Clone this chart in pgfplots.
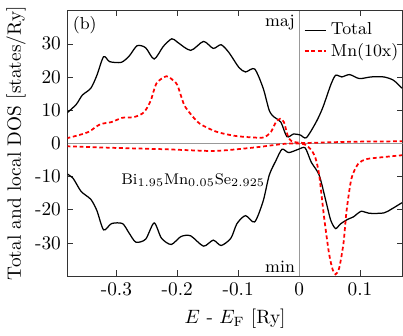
\documentclass[border=0pt]{standalone}
\usepackage{pgfplots}
\pgfplotsset{compat=1.18}
\begin{document}
\begin{tikzpicture}
\begin{axis}[
  width=173.5pt, height=137.5pt,
  scale only axis,
  xmin=-0.38, xmax=0.17,
  ymin=-40, ymax=40,
  xtick={-0.3,-0.2,-0.1,0,0.1},
  ytick={-30,-20,-10,0,10,20,30},
  tick align=inside,
  major tick length=3pt,
  axis line style={black!80},
  tick style={black!80},
  /pgf/number format/assume math mode=true,
  xlabel={$E$ - $E_{\mathrm{F}}$ [Ry]},
  ylabel={Total and local DOS [states/Ry]},
  ylabel style={yshift=-2pt},
  legend style={draw=none, fill=none, at={(1.0,0.985)}, anchor=north east,
    row sep=-1pt, inner xsep=0pt, font=\small},
  legend cell align=left,
  legend image code/.code={\draw[mark repeat=2,mark phase=2,#1] plot coordinates {(0cm,0cm) (0.2cm,0cm) (0.39cm,0cm)};},
]
\draw[black!40, line width=0.4pt] (axis cs:-0.38,0) -- (axis cs:0.17,0);
\draw[black!40, line width=0.4pt] (axis cs:0,-40) -- (axis cs:0,40);

% Total, majority
\addplot[black, line width=0.65pt, smooth, tension=0.45] coordinates {
(-0.382,9.0) (-0.366,11.7) (-0.356,14.5) (-0.342,16.6) (-0.332,20.5) (-0.321,26.1)
(-0.311,24.6) (-0.292,24.4) (-0.279,26.3) (-0.266,29.4) (-0.252,28.8) (-0.238,25.4)
(-0.223,29.2) (-0.209,31.5) (-0.200,30.5) (-0.178,28.0) (-0.157,30.7) (-0.141,28.6)
(-0.128,29.7) (-0.115,27.3) (-0.099,22.9) (-0.088,21.5) (-0.073,22.4) (-0.059,16.6)
(-0.049,9.9) (-0.041,7.9) (-0.030,6.4) (-0.020,2.0) (-0.009,2.8) (0.002,2.5)
(0.012,1.7) (0.028,6.4) (0.039,10.8) (0.052,17.6) (0.060,20.5) (0.070,20.0)
(0.083,20.7) (0.099,19.5) (0.118,20.0) (0.139,20.0) (0.155,19.0) (0.169,16.6)
};
\addlegendentry{Total}

% Mn (10x), majority
\addplot[red, line width=0.9pt, dash pattern=on 2pt off 1.4pt, smooth, tension=0.45] coordinates {
(-0.382,1.5) (-0.361,2.5) (-0.345,3.5) (-0.327,5.7) (-0.308,6.4) (-0.290,7.7)
(-0.271,7.9) (-0.255,9.3) (-0.244,12.7) (-0.234,18.1) (-0.218,20.2) (-0.207,19.0)
(-0.200,17.6) (-0.189,11.7) (-0.178,8.8) (-0.163,5.9) (-0.136,3.5) (-0.104,2.2)
(-0.070,1.7) (-0.057,1.8) (-0.046,3.5) (-0.038,6.4) (-0.031,7.4) (-0.025,6.4)
(-0.017,1.5) (-0.008,0.4) (0.010,0.1) (0.050,0.3) (0.100,0.5) (0.169,0.6)
};
\addlegendentry{Mn(10x)}

% Total, minority
\addplot[black, line width=0.65pt, smooth, tension=0.45, forget plot] coordinates {
(-0.382,-9.1) (-0.371,-10.6) (-0.358,-14.5) (-0.342,-16.9) (-0.332,-20.3) (-0.321,-26.1)
(-0.308,-24.2) (-0.290,-24.2) (-0.279,-27.1) (-0.268,-29.8) (-0.252,-28.9) (-0.238,-24.0)
(-0.226,-28.6) (-0.210,-30.5) (-0.194,-28.1) (-0.178,-27.9) (-0.157,-31.0) (-0.141,-29.2)
(-0.128,-30.8) (-0.112,-28.6) (-0.102,-24.2) (-0.088,-21.8) (-0.073,-23.7) (-0.059,-17.4)
(-0.049,-9.6) (-0.038,-5.2) (-0.028,-1.8) (-0.017,-2.8) (-0.001,-1.8) (0.010,-1.4)
(0.020,-5.7) (0.033,-9.6) (0.044,-17.4) (0.052,-23.2) (0.060,-25.7) (0.068,-24.3)
(0.080,-22.9) (0.089,-22.2) (0.102,-20.5) (0.115,-21.1) (0.139,-21.0) (0.152,-19.8) (0.169,-17.9)
};

% Mn (10x), minority
\addplot[red, line width=0.9pt, dash pattern=on 2pt off 1.4pt, smooth, tension=0.45, forget plot] coordinates {
(-0.382,-0.9) (-0.30,-1.4) (-0.22,-1.8) (-0.15,-2.3) (-0.12,-2.1) (-0.07,-1.2)
(-0.04,-0.5) (-0.020,-0.1) (0.000,-0.1) (0.010,-0.4) (0.020,-2.0) (0.027,-4.5)
(0.033,-9.6) (0.041,-22.2) (0.049,-33) (0.055,-38) (0.060,-39.5) (0.066,-37.5)
(0.073,-30) (0.078,-20.3) (0.086,-10.6) (0.097,-6.2) (0.110,-4.8) (0.131,-4.3)
(0.169,-3.6)
};

\node[font=\small] at (axis cs:-0.352,35.6) {(b)};
\node[anchor=east, inner sep=1pt, font=\small] at (axis cs:-0.003,36.4) {maj};
\node[anchor=east, inner sep=1pt, font=\small] at (axis cs:-0.003,-37.3) {min};
\node[font=\footnotesize] at (axis cs:-0.174,-11.1) {Bi$_{1.95}$Mn$_{0.05}$Se$_{2.925}$};
\end{axis}
\end{tikzpicture}
\end{document}
